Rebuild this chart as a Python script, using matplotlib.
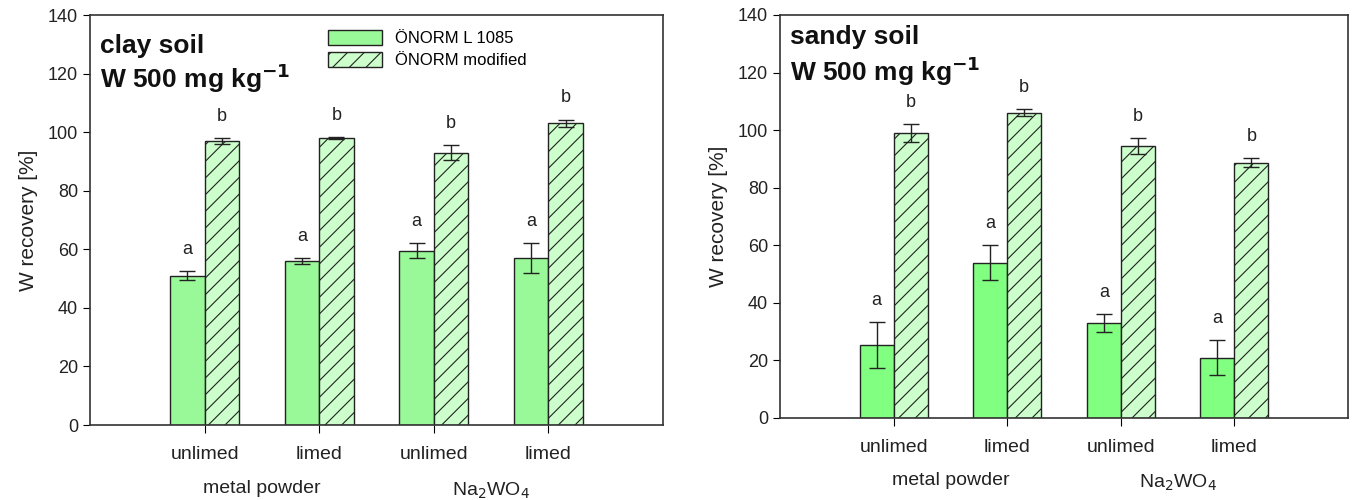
import matplotlib
matplotlib.use('Agg')
import matplotlib.pyplot as plt
import numpy as np

plt.rcParams['font.family'] = ['Liberation Sans', 'DejaVu Sans']
plt.rcParams['hatch.linewidth'] = 0.8

treatments = ['unlimed', 'limed', 'unlimed', 'limed']
sources = ['metal powder', 'Na$_2$WO$_4$']

clay_std = [51, 56, 59.5, 57]
clay_std_err = [1.5, 1, 2.5, 5]
clay_mod = [97, 98, 93, 103]
clay_mod_err = [1, 0.3, 2.5, 1.3]

sandy_std = [25.5, 54, 33, 21]
sandy_std_err = [8, 6, 3, 6]
sandy_mod = [99, 106, 94.5, 88.7]
sandy_mod_err = [3, 1.2, 2.8, 1.5]

fig = plt.figure(figsize=(13.53, 5.0), dpi=100)
ax1 = fig.add_axes([90/1353, 75/500, 573/1353, 410/500])
ax2 = fig.add_axes([780/1353, 82/500, 568/1353, 403/500])


def panel(ax, std, std_err, mod, mod_err, name, solid, ty):
    x = np.arange(1, 5)
    w = 0.3
    ax.bar(x - w/2, std, w, color=solid, edgecolor='#222222', linewidth=1,
           label='ÖNORM L 1085', zorder=2)
    ax.bar(x + w/2, mod, w, color='#ccffcc', edgecolor='#222222', linewidth=1,
           hatch='//', label='ÖNORM modified', zorder=2)
    ax.errorbar(x - w/2, std, yerr=std_err, fmt='none', ecolor='#222222',
                elinewidth=1, capsize=6, capthick=1, zorder=3)
    ax.errorbar(x + w/2, mod, yerr=mod_err, fmt='none', ecolor='#222222',
                elinewidth=1, capsize=6, capthick=1, zorder=3)
    for xi, v, e in zip(x, std, std_err):
        ax.text(xi - w/2, v + e + 4.5, 'a', ha='center', va='bottom', fontsize=13, color='#222222')
    for xi, v, e in zip(x, mod, mod_err):
        ax.text(xi + w/2, v + e + 4.5, 'b', ha='center', va='bottom', fontsize=13, color='#222222')
    ax.set_xlim(0, 5)
    ax.set_ylim(0, 140)
    ax.set_yticks(np.arange(0, 141, 20))
    ax.set_xticks(x)
    ax.set_xticklabels(treatments, fontsize=14, color='#222222')
    ax.tick_params(axis='y', labelsize=13, labelcolor='#222222', length=5, direction='out')
    ax.tick_params(axis='x', length=6, direction='out', pad=9)
    ax.set_ylabel('W recovery [%]', fontsize=15, color='#222222', labelpad=7)
    for s in ax.spines.values():
        s.set_linewidth(1.2)
        s.set_color('#333333')
    ax.text(0.018, ty[0], name, transform=ax.transAxes, ha='left', va='center',
            fontsize=19, fontweight='bold', color='#111111')
    ax.text(0.018, ty[1], 'W 500 mg kg$^{\\mathbf{-1}}$', transform=ax.transAxes,
            ha='left', va='center', fontsize=19, fontweight='bold', color='#111111')
    ax.text(1.5, -0.135, sources[0], transform=ax.get_xaxis_transform(),
            ha='center', va='top', fontsize=14, color='#222222')
    ax.text(3.5, -0.135, sources[1], transform=ax.get_xaxis_transform(),
            ha='center', va='top', fontsize=14, color='#222222')


panel(ax1, clay_std, clay_std_err, clay_mod, clay_mod_err,
      'clay soil', '#99f999', (0.925, 0.845))
panel(ax2, sandy_std, sandy_std_err, sandy_mod, sandy_mod_err,
      'sandy soil', '#80ff80', (0.945, 0.86))

ax1.legend(loc='upper left', bbox_to_anchor=(0.39, 1.0), frameon=False,
           fontsize=12, handlelength=3.2, handleheight=1.0, labelspacing=0.35,
           handletextpad=0.8)

fig.savefig('out.png', dpi=100)
